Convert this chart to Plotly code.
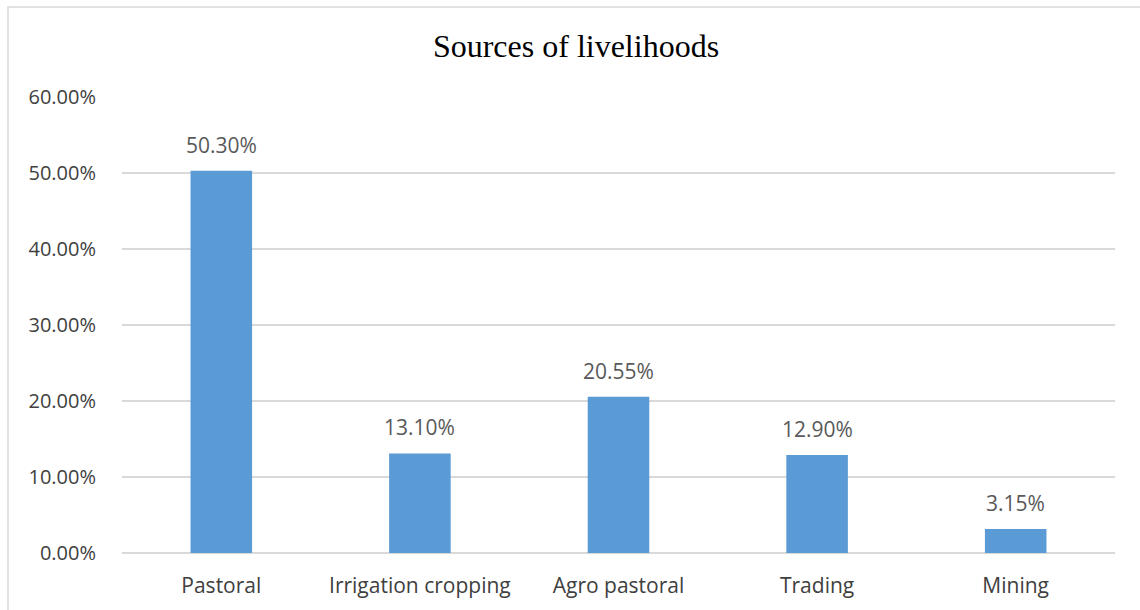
import plotly.graph_objects as go

categories = ["Pastoral", "Irrigation cropping", "Agro pastoral", "Trading", "Mining"]
values = [50.30, 13.10, 20.55, 12.90, 3.15]
labels = ["50.30%", "13.10%", "20.55%", "12.90%", "3.15%"]
y_ticks = [0, 10, 20, 30, 40, 50, 60]
y_tick_labels = ["0.00%", "10.00%", "20.00%", "30.00%", "40.00%", "50.00%", "60.00%"]

W, H = 1140, 610
L, R, T, B = 122, 25, 97, 57
FONT = "Open Sans, DejaVu Sans, sans-serif"

fig = go.Figure(go.Bar(
    x=categories, y=values,
    marker=dict(color="#5B9BD5", line=dict(width=0)),
    hoverinfo="x+y",
))

annotations = [
    dict(x=c, y=v, text=t, xref="x", yref="y", showarrow=False, yanchor="bottom", yshift=10,
         font=dict(family=FONT, size=21, color="#595959"))
    for c, v, t in zip(categories, values, labels)
]

fig.update_layout(
    width=W, height=H,
    margin=dict(l=L, r=R, t=T, b=B, pad=0),
    paper_bgcolor="white", plot_bgcolor="white",
    bargap=0.69,
    title=dict(text="Sources of livelihoods", x=576 / W, xanchor="center", y=1 - 46 / H, yanchor="middle",
               font=dict(family="Liberation Serif, Times New Roman, serif", size=32, color="#000000")),
    showlegend=False,
    font=dict(family=FONT, size=20, color="#404040"),
    annotations=annotations,
    xaxis=dict(showgrid=False, showline=False, ticks="outside", ticklen=14, tickcolor="rgba(0,0,0,0)",
               automargin=False, tickfont=dict(family=FONT, size=21, color="#404040")),
    yaxis=dict(range=[0, 60], tickvals=y_ticks, ticktext=y_tick_labels, showgrid=True,
               gridcolor="#d9d9d9", gridwidth=1.5, zeroline=True, zerolinecolor="#d9d9d9", zerolinewidth=1.5,
               showline=False, ticks="outside", ticklen=21, tickcolor="rgba(0,0,0,0)", automargin=False,
               tickfont=dict(family=FONT, size=20, color="#404040")),
    shapes=[dict(type="rect", xref="paper", yref="paper",
                 x0=(8 - L) / (W - L - R), x1=(W + 10 - L) / (W - L - R),
                 y0=-0.5, y1=1 + (T - 7) / (H - T - B),
                 line=dict(color="#d9d9d9", width=1.5), fillcolor="rgba(0,0,0,0)", layer="below")],
)

fig.write_html("out.html", config={"displayModeBar": False},
               post_script="document.body.style.margin='0';document.body.style.overflow='hidden';")
